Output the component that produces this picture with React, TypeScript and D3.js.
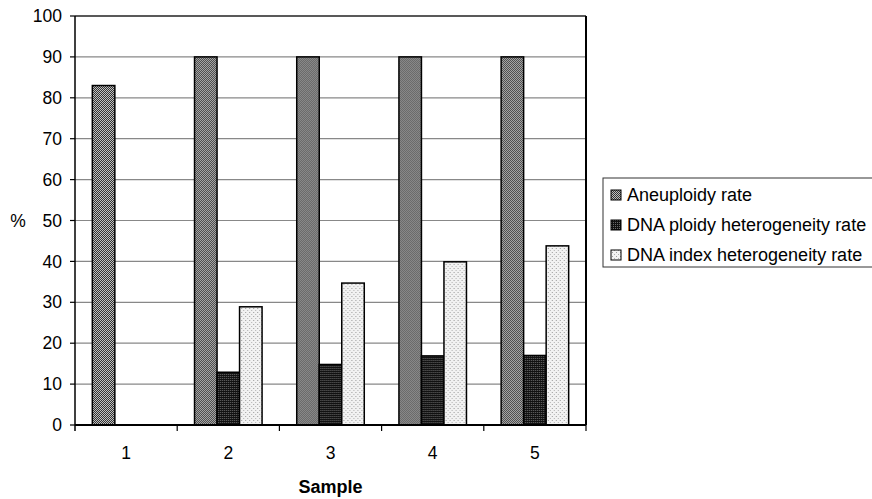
import React from 'react';
import * as d3 from 'd3';

const samples = ['1', '2', '3', '4', '5'];
const seriesNames = ['Aneuploidy rate', 'DNA ploidy heterogeneity rate', 'DNA index heterogeneity rate'];
const aneuploidy = [83, 90, 90, 90, 90];
const ploidyHet = [0, 12.9, 14.8, 16.9, 17];
const indexHet = [0, 28.9, 34.7, 39.9, 43.8];
const yTicks = [0, 10, 20, 30, 40, 50, 60, 70, 80, 90, 100];

const W = 872;
const H = 499;
const left = 75;
const right = 586;
const top = 16;
const bottom = 425;
const font = '"Liberation Sans", Arial, sans-serif';

const patternIds = ['pAneu', 'pPloidy', 'pIndex'];

const App = () => {
  const values = [aneuploidy, ploidyHet, indexHet];

  const x0 = d3.scaleBand<string>().domain(samples).range([left, right]).padding(0);
  const x1 = d3.scaleBand<string>()
    .domain(seriesNames)
    .range([0, x0.bandwidth()])
    .paddingInner(0)
    .paddingOuter(0.77);
  const y = d3.scaleLinear().domain([0, 100]).range([bottom, top]);

  return (
    <svg width={W} height={H} style={{ position: 'absolute', left: 0, top: 0, background: '#fff' }}>
      <defs>
        {/* mid grey checker */}
        <pattern id="pAneu" width={2} height={2} patternUnits="userSpaceOnUse">
          <rect width={2} height={2} fill="#c0c0c0" />
          <rect x={0} y={0} width={1} height={1} fill="#333" />
          <rect x={1} y={1} width={1} height={1} fill="#333" />
        </pattern>
        {/* dark checker */}
        <pattern id="pPloidy" width={2} height={2} patternUnits="userSpaceOnUse">
          <rect width={2} height={2} fill="#111" />
          <rect x={1} y={0} width={1} height={1} fill="#6a6a6a" />
        </pattern>
        {/* light speckle */}
        <pattern id="pIndex" width={4} height={4} patternUnits="userSpaceOnUse">
          <rect width={4} height={4} fill="#f2f2f2" />
          <rect x={0} y={0} width={1} height={1} fill="#9a9a9a" />
          <rect x={2} y={2} width={1} height={1} fill="#b0b0b0" />
        </pattern>
      </defs>

      {/* gridlines */}
      {yTicks.map((t) => (
        <line key={'g' + t} x1={left} x2={right} y1={y(t)} y2={y(t)}
          stroke={t === 100 ? '#222' : '#888'} strokeWidth={t === 100 ? 1.5 : 1.2} />
      ))}

      {/* bars */}
      {samples.map((s, i) => (
        <g key={s} transform={`translate(${x0(s)},0)`}>
          {seriesNames.map((name, k) => {
            const v = values[k][i];
            if (!v) return null;
            return (
              <rect key={name} x={x1(name)} y={y(v)} width={x1.bandwidth()} height={y(0) - y(v)}
                fill={`url(#${patternIds[k]})`} stroke="#000" strokeWidth={1.5} />
            );
          })}
        </g>
      ))}

      {/* frame */}
      <line x1={right} x2={right} y1={top} y2={bottom} stroke="#000" strokeWidth={2} />
      <line x1={left} x2={left} y1={top} y2={bottom + 6} stroke="#000" strokeWidth={1.5} />
      <line x1={left} x2={right} y1={bottom} y2={bottom} stroke="#000" strokeWidth={2} />

      {/* y axis */}
      {yTicks.map((t) => (
        <g key={'y' + t}>
          <line x1={left - 5} x2={left} y1={y(t)} y2={y(t)} stroke="#000" strokeWidth={1.2} />
          <text x={62} y={y(t)} dy="0.35em" textAnchor="end" fontFamily={font} fontSize={17.5}>{t}</text>
        </g>
      ))}
      <text x={18} y={y(50)} dy="0.35em" textAnchor="middle" fontFamily={font} fontSize={17.5}>%</text>

      {/* x axis */}
      {samples.map((s) => (
        <g key={'x' + s}>
          <line x1={x0(s)! + x0.bandwidth()} x2={x0(s)! + x0.bandwidth()} y1={bottom} y2={bottom + 6}
            stroke="#000" strokeWidth={1.2} />
          <text x={x0(s)! + x0.bandwidth() / 2} y={459} textAnchor="middle" fontFamily={font} fontSize={17.5}>{s}</text>
        </g>
      ))}
      <text x={(left + right) / 2} y={493} textAnchor="middle" fontFamily={font} fontSize={18} fontWeight="bold">Sample</text>

      {/* legend */}
      <rect x={603} y={178} width={275} height={89} fill="#fff" stroke="#333" strokeWidth={1} />
      {seriesNames.map((name, k) => {
        const cy = 195 + k * 30;
        return (
          <g key={'l' + name}>
            <rect x={611} y={cy - 5} width={10} height={10} fill={`url(#${patternIds[k]})`} stroke="#000" strokeWidth={1} />
            <text x={627} y={cy} dy="0.35em" fontFamily={font} fontSize={18}>{name}</text>
          </g>
        );
      })}
    </svg>
  );
};

export default App;
